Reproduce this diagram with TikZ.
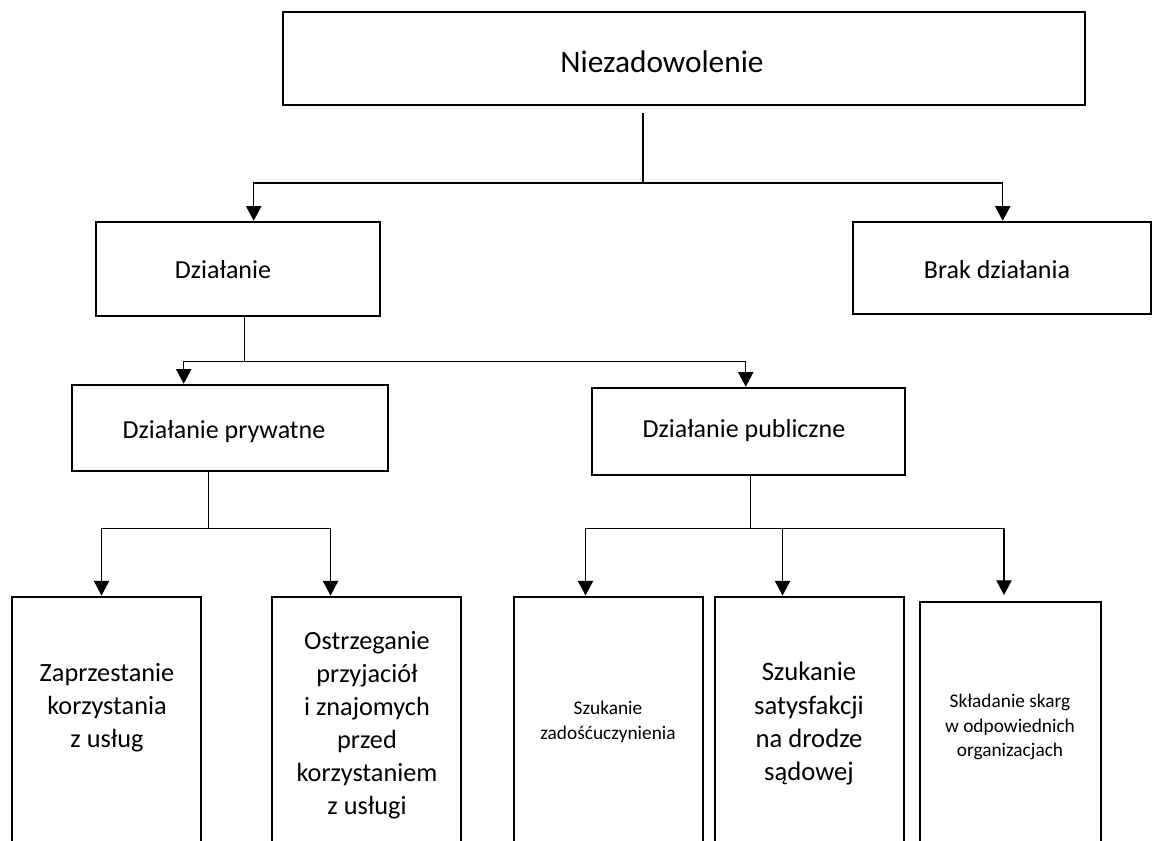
\documentclass[tikz,border=0pt]{standalone}
\usepackage{fontspec}
\setmainfont{Carlito}
\usetikzlibrary{arrows.meta,calc,fit}
\begin{document}
\begin{tikzpicture}[x=0.75pt,y=-0.75pt,
  box/.style={draw=black,line width=1.9pt,rectangle,inner sep=0pt},
  leaf/.style={box,line width=2.2pt},
  conn/.style={draw=black,line width=0.8pt},
  arr/.style={conn,-{Triangle[length=11pt,width=11.5pt]}},
  lbl/.style={align=center,inner sep=0pt,text=black},
  big/.style={lbl,font=\fontsize{23.5}{28}\selectfont},
  mid/.style={lbl,font=\fontsize{19.5}{24}\selectfont},
  leafbig/.style={lbl,font=\fontsize{20}{25}\selectfont},
  leafsmall/.style={lbl,font=\fontsize{14.5}{18.4}\selectfont},
]
\useasboundingbox (0,0) rectangle (1154,841);
\fill[white] (0,0) rectangle (1154,841);
\clip (0,0) rectangle (1154,841);

% boxes
\node[box,fit={(283,12) (1085,105)}] (top) {};
\node[box,fit={(96,222) (380,316)}] (dz) {};
\node[box,fit={(853,222) (1151,314)}] (brak) {};
\node[box,fit={(72,385) (388,471)}] (prv) {};
\node[box,fit={(592,388) (905,475)}] (pub) {};
\node[leaf,fit={(12,597) (201,870)}] (b1) {};
\node[leaf,fit={(272,597) (461,870)}] (b2) {};
\node[leaf,fit={(514,597) (703,870)}] (b3) {};
\node[leaf,fit={(715,597) (904,870)}] (b4) {};
\node[leaf,fit={(920,602) (1101,870)}] (b5) {};

% texts
\node[big] (top-t) at (662,62) {Niezadowolenie};
\node[mid] (dz-t) at (223,270) {Działanie};
\node[mid] (brak-t) at (997,270) {Brak działania};
\node[mid] (prv-t) at (224,432) {Działanie prywatne};
\node[mid] (pub-t) at (744,431) {Działanie publiczne};
\node[leafbig,font=\fontsize{19.7}{24.7}\selectfont] (b1-t) at (107,708) {Zaprzestanie\\korzystania\\z usług};
\node[leafbig,font=\fontsize{19.7}{24.7}\selectfont] (b2-t) at (367,725) {Ostrzeganie\\przyjaciół\\i znajomych\\przed\\korzystaniem\\z usługi};
\node[leafsmall] (b3-t) at (608,722) {Szukanie\\zadośćuczynienia};
\node[leafbig] (b4-t) at (809,724) {Szukanie\\satysfakcji\\na drodze\\sądowej};
\node[leafsmall] (b5-t) at (1010,727) {Składanie skarg\\w odpowiednich\\organizacjach};

% first split
\coordinate (s1) at (643,113);
\coordinate (j1) at (643,183);
\draw[conn] (s1) -- (j1);
\draw[arr] (j1) -| ($(dz.north west)+(159,0)$);
\draw[arr] (j1) -| ($(brak.north west)+(151,0)$);

% second split
\draw[conn] ($(dz.south west)+(150,0)$) -- ++(0,44) coordinate (j2);
\draw[arr] (j2) -| ($(prv.north west)+(113,0)$);
\draw[arr] (j2) -| ($(pub.north west)+(155,0)$);

% private actions
\draw[conn] ($(prv.south west)+(138,0)$) -- ++(0,56) coordinate (j3);
\draw[arr] (j3) -| ($(b1.north west)+(91,0)$);
\draw[arr] (j3) -| ($(b2.north west)+(60,0)$);

% public actions
\draw[conn] ($(pub.south west)+(160,0)$) -- ++(0,52) coordinate (j4);
\draw[arr] (j4) -| ($(b3.north west)+(73,0)$);
\draw[arr] (j4) -| ($(b4.north west)+(69,0)$);
\coordinate (t5) at (1004,595);
\draw[arr] (j4) -| (t5);
\end{tikzpicture}
\end{document}
